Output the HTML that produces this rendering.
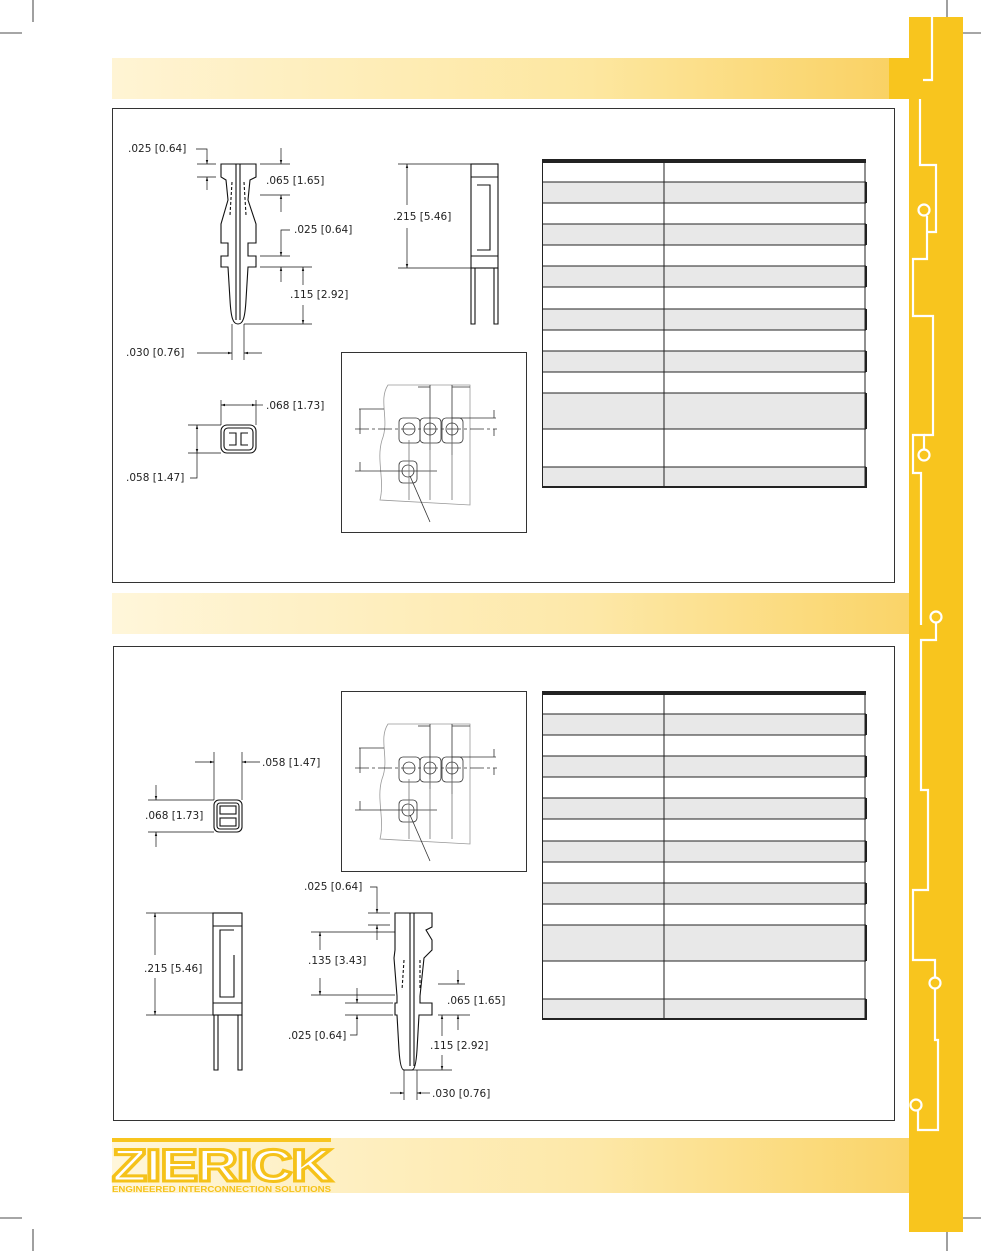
<!DOCTYPE html>
<html><head><meta charset="utf-8"><style>
html,body{margin:0;padding:0;background:#fff;}
svg{display:block;}
text{font-family:"DejaVu Sans","Liberation Sans",sans-serif;font-size:10.5px;fill:#222;}
</style></head><body>
<svg width="981" height="1251" viewBox="0 0 981 1251" xmlns="http://www.w3.org/2000/svg">
<defs>
<linearGradient id="band" x1="0" x2="1" y1="0" y2="0">
<stop offset="0" stop-color="#fff4d4"/><stop offset="0.6" stop-color="#fde7a0"/><stop offset="1" stop-color="#f9d060"/>
</linearGradient>
<linearGradient id="band2" x1="0" x2="1" y1="0" y2="0">
<stop offset="0" stop-color="#fff6da"/><stop offset="0.6" stop-color="#fde8a8"/><stop offset="1" stop-color="#fad468"/>
</linearGradient>
<marker id="ar" viewBox="0 0 10 10" refX="10" refY="5" markerWidth="6" markerHeight="6" orient="auto-start-reverse"><path d="M0,2 L10,5 L0,8 z" fill="#111"/></marker>
<g id="tbl">
<rect x="542" y="160" width="323" height="327" fill="#fff"/>
<g fill="#e8e8e8">
<rect x="542" y="182" width="323" height="21"/><rect x="542" y="224" width="323" height="21"/>
<rect x="542" y="266" width="323" height="21"/><rect x="542" y="309" width="323" height="21"/>
<rect x="542" y="351" width="323" height="21"/><rect x="542" y="393" width="323" height="36"/>
<rect x="542" y="467" width="323" height="20"/>
</g>
<g stroke="#222" stroke-width="1">
<line x1="542" y1="182" x2="866" y2="182"/><line x1="542" y1="203" x2="866" y2="203"/>
<line x1="542" y1="224" x2="866" y2="224"/><line x1="542" y1="245" x2="866" y2="245"/>
<line x1="542" y1="266" x2="866" y2="266"/><line x1="542" y1="287" x2="866" y2="287"/>
<line x1="542" y1="309" x2="866" y2="309"/><line x1="542" y1="330" x2="866" y2="330"/>
<line x1="542" y1="351" x2="866" y2="351"/><line x1="542" y1="372" x2="866" y2="372"/>
<line x1="542" y1="393" x2="866" y2="393"/><line x1="542" y1="429" x2="866" y2="429"/>
<line x1="542" y1="467" x2="866" y2="467"/>
<line x1="542.5" y1="160" x2="542.5" y2="487"/><line x1="664" y1="160" x2="664" y2="487"/>
<line x1="865" y1="160" x2="865" y2="487"/>
</g>
<rect x="542" y="159" width="324" height="4" fill="#222"/>
<rect x="542" y="486" width="324" height="2" fill="#222"/>
<g fill="#222"><rect x="865" y="182" width="2" height="21"/><rect x="865" y="224" width="2" height="21"/><rect x="865" y="266" width="2" height="21"/><rect x="865" y="309" width="2" height="21"/><rect x="865" y="351" width="2" height="21"/><rect x="865" y="393" width="2" height="36"/><rect x="865" y="467" width="2" height="21"/></g>
</g>
<g id="inset" fill="none" stroke="#333" stroke-width="0.8">
<path d="M388,385 C378,400 390,420 382,440 C376,460 385,480 380,500 L470,505 L470,385 Z" stroke="#999"/>
<rect x="399" y="418" width="21" height="25" rx="4"/><rect x="420" y="418" width="21" height="25" rx="4"/><rect x="442" y="418" width="21" height="25" rx="4"/>
<circle cx="409" cy="429" r="6"/><circle cx="430" cy="429" r="6"/><circle cx="452" cy="429" r="6"/>
<rect x="399" y="461" width="18" height="22" rx="4"/><circle cx="408" cy="471" r="6"/>
<line x1="355" y1="429" x2="497" y2="429" stroke-dasharray="14,3,3,3"/>
<line x1="355" y1="471" x2="437" y2="471"/>
<line x1="359" y1="409" x2="384" y2="409"/>
<line x1="452" y1="418" x2="496" y2="418"/>
<line x1="418" y1="387" x2="430" y2="387"/><line x1="452" y1="387" x2="470" y2="387"/>
<line x1="430" y1="385" x2="430" y2="450"/><line x1="452" y1="385" x2="452" y2="455"/>
<line x1="409" y1="440" x2="409" y2="500" stroke="#777"/>
<line x1="430" y1="440" x2="430" y2="500" stroke="#777"/><line x1="452" y1="440" x2="452" y2="500" stroke="#777"/>
<line x1="360" y1="409" x2="360" y2="434"/><line x1="360" y1="462" x2="360" y2="471"/>
<line x1="494" y1="410" x2="494" y2="418"/><line x1="494" y1="429" x2="494" y2="436"/>
<line x1="410" y1="476" x2="430" y2="522"/>
</g>
</defs>

<!-- crop marks -->
<g stroke="#111" stroke-width="0.8">
<line x1="33" y1="0" x2="33" y2="22"/><line x1="0" y1="33" x2="22" y2="33"/>
<line x1="947" y1="0" x2="947" y2="22"/><line x1="960" y1="33" x2="981" y2="33"/>
<line x1="33" y1="1229" x2="33" y2="1251"/><line x1="0" y1="1218" x2="22" y2="1218"/>
<line x1="947" y1="1229" x2="947" y2="1251"/><line x1="960" y1="1218" x2="981" y2="1218"/>
</g>

<!-- bands -->
<rect x="112" y="58" width="797" height="41" fill="url(#band)"/>
<rect x="889" y="58" width="20" height="41" fill="#f8c51e"/>
<rect x="112" y="593" width="797" height="41" fill="url(#band2)"/>
<rect x="112" y="1138" width="797" height="55" fill="url(#band2)"/>

<!-- right bar -->
<rect x="909" y="17" width="54" height="1215" fill="#f8c51e"/>
<g fill="none" stroke="#fff" stroke-width="2.2">
<polyline points="932,17 932,80 923,80"/>
<polyline points="920,99 920,165 936,165 936,232 927,232"/>
<circle cx="924" cy="210" r="5.5"/>
<polyline points="927,216 927,259 913,259 913,316 933,316 933,435 924,435"/>
<circle cx="924" cy="455" r="5.5"/>
<polyline points="924,449 924,435 913,435 913,473 921,473 921,625"/>
<circle cx="936" cy="617" r="5.5"/>
<polyline points="936,623 936,640 921,640 921,790 928,790 928,890 913,890 913,960 935,960 935,977"/>
<circle cx="935" cy="983" r="5.5"/>
<polyline points="935,989 935,1040 938,1040 938,1130 918,1130 918,1111"/>
<circle cx="916" cy="1105" r="5.5"/>
</g>

<!-- boxes -->
<rect x="112.5" y="108.5" width="782" height="474" fill="#fff" stroke="#333" stroke-width="1"/>
<rect x="113.5" y="646.5" width="781" height="474" fill="#fff" stroke="#333" stroke-width="1"/>

<use href="#tbl"/>
<use href="#tbl" transform="translate(0,532)"/>

<rect x="341.5" y="352.5" width="185" height="180" fill="#fff" stroke="#333"/>
<use href="#inset"/>
<rect x="341.5" y="691.5" width="185" height="180" fill="#fff" stroke="#333"/>
<use href="#inset" transform="translate(0,339)"/>

<!-- Drawing 1: pin -->
<g fill="none" stroke="#111" stroke-width="1.1">
<path d="M221,164 L256,164 L256,177 L250,180 L248,200 L256,224 L256,243 L248,243 L248,256 L256,256 L256,267 L248,267 L246,300 C245,318 243,324 238,324 C233,324 231,318 230,300 L228,267 L221,267 L221,256 L228,256 L228,243 L221,243 L221,224 L228,200 L226,180 L221,177 Z"/>
<line x1="236" y1="164" x2="236" y2="320"/><line x1="240" y1="164" x2="240" y2="320"/>
<path d="M232,182 L230,215 M244,182 L246,215" stroke-dasharray="3,2"/>
</g>
<g stroke="#111" stroke-width="0.7" fill="none">
<line x1="197" y1="164" x2="216" y2="164"/><line x1="197" y1="177" x2="216" y2="177"/>
<polyline points="196,149 207,149 207,164" marker-end="url(#ar)"/><line x1="207" y1="190" x2="207" y2="177" marker-end="url(#ar)"/>
<line x1="260" y1="164" x2="290" y2="164"/><line x1="260" y1="195" x2="290" y2="195"/>
<line x1="281" y1="148" x2="281" y2="164" marker-end="url(#ar)"/><line x1="281" y1="212" x2="281" y2="195" marker-end="url(#ar)"/>
<line x1="260" y1="256" x2="290" y2="256"/><line x1="260" y1="267" x2="312" y2="267"/>
<polyline points="290,230 281,230 281,256" marker-end="url(#ar)"/><line x1="281" y1="282" x2="281" y2="267" marker-end="url(#ar)"/>
<line x1="303" y1="285" x2="303" y2="267" marker-end="url(#ar)"/><line x1="303" y1="305" x2="303" y2="324" marker-end="url(#ar)"/>
<line x1="244" y1="324" x2="312" y2="324"/>
<line x1="232" y1="324" x2="232" y2="360"/><line x1="244" y1="324" x2="244" y2="360"/>
<line x1="197" y1="353" x2="232" y2="353" marker-end="url(#ar)"/><line x1="262" y1="353" x2="244" y2="353" marker-end="url(#ar)"/>
</g>
<text x="128" y="152">.025 [0.64]</text>
<text x="266" y="184">.065 [1.65]</text>
<text x="294" y="233">.025 [0.64]</text>
<text x="290" y="298">.115 [2.92]</text>
<text x="126" y="356">.030 [0.76]</text>

<!-- side view 1 -->
<g fill="none" stroke="#111" stroke-width="1.1">
<rect x="471" y="164" width="27" height="104"/>
<line x1="471" y1="177" x2="498" y2="177"/>
<path d="M477,185 L490,185 L490,250 L477,250"/>
<line x1="471" y1="256" x2="498" y2="256"/>
<path d="M471,268 L471,324 L475,324 L475,268 M494,268 L494,324 L498,324 L498,268"/>
</g>
<g stroke="#111" stroke-width="0.7">
<line x1="398" y1="164" x2="471" y2="164"/><line x1="398" y1="268" x2="471" y2="268"/>
<line x1="407" y1="205" x2="407" y2="164" marker-end="url(#ar)"/><line x1="407" y1="228" x2="407" y2="268" marker-end="url(#ar)"/>
</g>
<text x="393" y="220">.215 [5.46]</text>

<!-- end view 1 -->
<g fill="none" stroke="#111" stroke-width="1.1">
<rect x="221" y="425" width="35" height="28" rx="6"/>
<rect x="224" y="428" width="29" height="22" rx="4"/>
<path d="M229,433 L236,433 L236,445 L229,445 M248,433 L241,433 L241,445 L248,445"/>
</g>
<g stroke="#111" stroke-width="0.7" fill="none">
<line x1="221" y1="400" x2="221" y2="425"/><line x1="256" y1="400" x2="256" y2="425"/>
<line x1="240" y1="405" x2="221" y2="405" marker-end="url(#ar)"/><line x1="240" y1="405" x2="256" y2="405" marker-end="url(#ar)"/>
<line x1="256" y1="405" x2="263" y2="405"/>
<line x1="188" y1="425" x2="221" y2="425"/><line x1="188" y1="453" x2="221" y2="453"/>
<line x1="197" y1="440" x2="197" y2="425" marker-end="url(#ar)"/><line x1="197" y1="440" x2="197" y2="453" marker-end="url(#ar)"/>
<polyline points="190,478 197,478 197,453"/>
</g>
<text x="266" y="409">.068 [1.73]</text>
<text x="126" y="481">.058 [1.47]</text>

<!-- Drawing 2: end view -->
<g fill="none" stroke="#111" stroke-width="1.1">
<rect x="214" y="800" width="28" height="32" rx="5"/>
<rect x="217" y="803" width="22" height="26" rx="3"/>
<rect x="220" y="806" width="16" height="8"/><rect x="220" y="818" width="16" height="8"/>
</g>
<g stroke="#111" stroke-width="0.7" fill="none">
<line x1="214" y1="752" x2="214" y2="800"/><line x1="242" y1="752" x2="242" y2="800"/>
<line x1="195" y1="762" x2="214" y2="762" marker-end="url(#ar)"/><line x1="260" y1="762" x2="242" y2="762" marker-end="url(#ar)"/>
<line x1="148" y1="800" x2="214" y2="800"/><line x1="148" y1="832" x2="214" y2="832"/>
<line x1="156" y1="785" x2="156" y2="800" marker-end="url(#ar)"/><line x1="156" y1="847" x2="156" y2="832" marker-end="url(#ar)"/>
</g>
<text x="262" y="766">.058 [1.47]</text>
<text x="145" y="819">.068 [1.73]</text>

<!-- side view 2 -->
<g fill="none" stroke="#111" stroke-width="1.1">
<rect x="213" y="913" width="29" height="102"/>
<line x1="213" y1="926" x2="242" y2="926"/>
<path d="M234,930 L220,930 L220,997 L234,997 L234,955"/>
<line x1="213" y1="1003" x2="242" y2="1003"/>
<path d="M214,1015 L214,1070 L218,1070 L218,1015 M238,1015 L238,1070 L242,1070 L242,1015"/>
</g>
<g stroke="#111" stroke-width="0.7">
<line x1="146" y1="913" x2="213" y2="913"/><line x1="146" y1="1015" x2="213" y2="1015"/>
<line x1="155" y1="955" x2="155" y2="913" marker-end="url(#ar)"/><line x1="155" y1="978" x2="155" y2="1015" marker-end="url(#ar)"/>
</g>
<text x="144" y="972">.215 [5.46]</text>

<!-- pin 2 -->
<g fill="none" stroke="#111" stroke-width="1.1">
<path d="M395,913 L432,913 L432,927 L426,930 L432,940 L432,950 L424,958 L420,996 L420,1003 L432,1003 L432,1015 L419,1015 L417,1050 C416,1066 414,1070 412,1070 L404,1070 C402,1070 400,1066 399,1050 L397,1015 L395,1015 L395,1003 L397,1003 L397,996 L394,958 L395,950 L395,940 L395,927 Z"/>
<line x1="410" y1="913" x2="410" y2="1066"/><line x1="414" y1="913" x2="414" y2="1066"/>
<path d="M404,960 L402,990 M420,960 L420,990" stroke-dasharray="3,2"/>
</g>
<g stroke="#111" stroke-width="0.7" fill="none">
<line x1="368" y1="913" x2="390" y2="913"/><line x1="368" y1="925" x2="390" y2="925"/>
<polyline points="370,887 377,887 377,913" marker-end="url(#ar)"/><line x1="377" y1="940" x2="377" y2="925" marker-end="url(#ar)"/>
<line x1="311" y1="932" x2="395" y2="932"/><line x1="311" y1="995" x2="395" y2="995"/>
<line x1="320" y1="950" x2="320" y2="932" marker-end="url(#ar)"/><line x1="320" y1="978" x2="320" y2="995" marker-end="url(#ar)"/>
<line x1="345" y1="1003" x2="393" y2="1003"/><line x1="345" y1="1015" x2="393" y2="1015"/>
<line x1="357" y1="988" x2="357" y2="1003" marker-end="url(#ar)"/><polyline points="350,1035 357,1035 357,1015" marker-end="url(#ar)"/>
<line x1="438" y1="984" x2="465" y2="984"/><line x1="438" y1="1015" x2="470" y2="1015"/>
<line x1="458" y1="970" x2="458" y2="984" marker-end="url(#ar)"/><line x1="458" y1="1030" x2="458" y2="1015" marker-end="url(#ar)"/>
<line x1="442" y1="1036" x2="442" y2="1015" marker-end="url(#ar)"/><line x1="442" y1="1055" x2="442" y2="1070" marker-end="url(#ar)"/>
<line x1="412" y1="1070" x2="452" y2="1070"/>
<line x1="404" y1="1070" x2="404" y2="1100"/><line x1="417" y1="1070" x2="417" y2="1100"/>
<line x1="390" y1="1093" x2="404" y2="1093" marker-end="url(#ar)"/><line x1="430" y1="1093" x2="417" y2="1093" marker-end="url(#ar)"/>
</g>
<text x="304" y="890">.025 [0.64]</text>
<text x="308" y="964">.135 [3.43]</text>
<text x="447" y="1004">.065 [1.65]</text>
<text x="288" y="1039">.025 [0.64]</text>
<text x="430" y="1049">.115 [2.92]</text>
<text x="432" y="1097">.030 [0.76]</text>

<!-- logo -->
<rect x="112" y="1138" width="219" height="4" fill="#f8c51e"/>
<text x="112" y="1181" style="font-family:'Liberation Sans',sans-serif;font-weight:bold;font-size:45px;fill:#fff;stroke:#f5c21a;stroke-width:3;letter-spacing:-1px" textLength="219" lengthAdjust="spacingAndGlyphs">ZIERICK</text>
<text x="112" y="1192" style="font-family:'Liberation Sans',sans-serif;font-weight:bold;font-size:8px;fill:#f5c21a" textLength="219" lengthAdjust="spacingAndGlyphs">ENGINEERED INTERCONNECTION SOLUTIONS</text>
</svg>
</body></html>
